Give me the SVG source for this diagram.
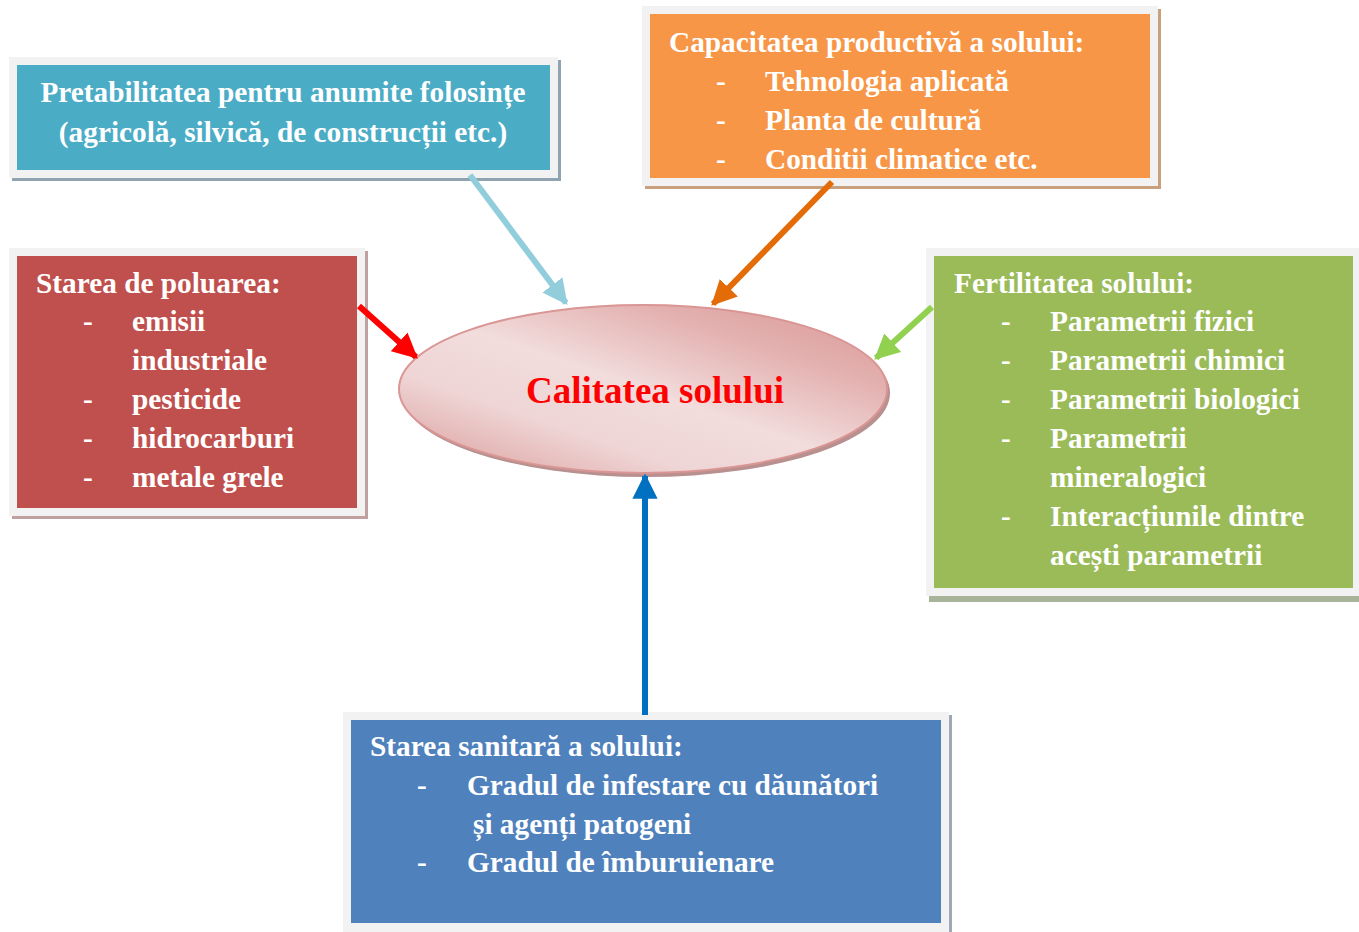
<svg xmlns="http://www.w3.org/2000/svg" width="1359" height="932" viewBox="0 0 1359 932">
<style>
.t{font-family:"Liberation Serif","Times New Roman",serif;font-weight:bold;font-size:29.3px;fill:#ffffff}
.frame{fill:#f2f2f2}
.title{font-family:"Liberation Serif","Times New Roman",serif;font-weight:bold;font-size:37px;fill:#ff0000}
</style>
<defs>
<linearGradient id="eg" x1="0" y1="1" x2="1" y2="0">
<stop offset="0" stop-color="#d99a98"/>
<stop offset="0.3" stop-color="#efd5d5"/>
<stop offset="0.5" stop-color="#f2dcdc"/>
<stop offset="0.75" stop-color="#e3b1b0"/>
<stop offset="1" stop-color="#d99694"/>
</linearGradient>
<marker id="ah" viewBox="0 0 10 10" refX="9" refY="5" markerWidth="4.2" markerHeight="4.2" orient="auto" markerUnits="strokeWidth">
<path d="M0,0 L10,5 L0,10 Z" fill="context-stroke"/>
</marker>
</defs>
<rect width="1359" height="932" fill="#ffffff"/>

<g id="center">
<ellipse cx="646" cy="393" rx="244" ry="84" fill="#b8908f"/>
<ellipse cx="643" cy="389" rx="244" ry="84" fill="url(#eg)" stroke="#d99694" stroke-width="2"/>
<text class="title" x="655" y="403" text-anchor="middle">Calitatea solului</text>
</g>

<g id="pretabilitatea">
<rect x="12" y="60" width="549" height="121" fill="#8fa4b0"/>
<rect class="frame" x="9" y="57" width="549" height="121"/>
<rect x="17" y="65" width="533" height="105" fill="#4bacc6"/>
<text class="t" x="283" y="102" text-anchor="middle">Pretabilitatea pentru anumite folosințe</text>
<text class="t" x="283" y="142" text-anchor="middle">(agricolă, silvică, de construcții etc.)</text>
</g>

<g id="capacitatea">
<rect x="645" y="9" width="516" height="180" fill="#c8a07e"/>
<rect class="frame" x="642" y="6" width="516" height="180"/>
<rect x="650" y="14" width="500" height="164" fill="#f79646"/>
<text class="t" x="669" y="52">Capacitatea productivă a solului:</text>
<text class="t" x="716" y="91">-</text><text class="t" x="765" y="91">Tehnologia aplicată</text>
<text class="t" x="716" y="130">-</text><text class="t" x="765" y="130">Planta de cultură</text>
<text class="t" x="716" y="169">-</text><text class="t" x="765" y="169">Conditii climatice etc.</text>
</g>

<g id="poluare">
<rect x="12" y="251" width="356" height="268" fill="#c0a0a0"/>
<rect class="frame" x="9" y="248" width="356" height="268"/>
<rect x="17" y="256" width="340" height="252" fill="#c0504d"/>
<text class="t" x="36" y="293">Starea de poluarea:</text>
<text class="t" x="83" y="331">-</text><text class="t" x="132" y="331">emisii</text>
<text class="t" x="132" y="370">industriale</text>
<text class="t" x="83" y="409">-</text><text class="t" x="132" y="409">pesticide</text>
<text class="t" x="83" y="448">-</text><text class="t" x="132" y="448">hidrocarburi</text>
<text class="t" x="83" y="487">-</text><text class="t" x="132" y="487">metale grele</text>
</g>

<g id="fertilitatea">
<rect x="929" y="251" width="433" height="351" fill="#a8b49a"/>
<rect class="frame" x="926" y="248" width="433" height="348"/>
<rect x="934" y="256" width="419" height="332" fill="#9bbb59"/>
<text class="t" x="954" y="293">Fertilitatea solului:</text>
<text class="t" x="1001" y="331">-</text><text class="t" x="1050" y="331">Parametrii fizici</text>
<text class="t" x="1001" y="370">-</text><text class="t" x="1050" y="370">Parametrii chimici</text>
<text class="t" x="1001" y="409">-</text><text class="t" x="1050" y="409">Parametrii biologici</text>
<text class="t" x="1001" y="448">-</text><text class="t" x="1050" y="448">Parametrii</text>
<text class="t" x="1050" y="487">mineralogici</text>
<text class="t" x="1001" y="526">-</text><text class="t" x="1050" y="526">Interacțiunile dintre</text>
<text class="t" x="1050" y="565">acești parametrii</text>
</g>

<g id="sanitara">
<rect x="346" y="715" width="606" height="220" fill="#a0a8b8"/>
<rect class="frame" x="343" y="712" width="606" height="220"/>
<rect x="351" y="720" width="590" height="203" fill="#4f81bd"/>
<text class="t" x="370" y="756">Starea sanitară a solului:</text>
<text class="t" x="417" y="795">-</text><text class="t" x="467" y="795">Gradul de infestare cu dăunători</text>
<text class="t" x="473" y="834">și agenți patogeni</text>
<text class="t" x="417" y="872">-</text><text class="t" x="467" y="872">Gradul de îmburuienare</text>
</g>

<g id="connectors" fill="none" stroke-width="6">
<line x1="470" y1="175" x2="566" y2="303" stroke="#92cddc" marker-end="url(#ah)"/>
<line x1="832" y1="182" x2="713" y2="304" stroke="#e36c09" marker-end="url(#ah)"/>
<line x1="359" y1="306" x2="416" y2="357" stroke="#ff0000" marker-end="url(#ah)"/>
<line x1="932" y1="307" x2="876" y2="358" stroke="#92d050" marker-end="url(#ah)"/>
<line x1="645" y1="715" x2="645" y2="476" stroke="#0070c0" marker-end="url(#ah)"/>
</g>
</svg>
